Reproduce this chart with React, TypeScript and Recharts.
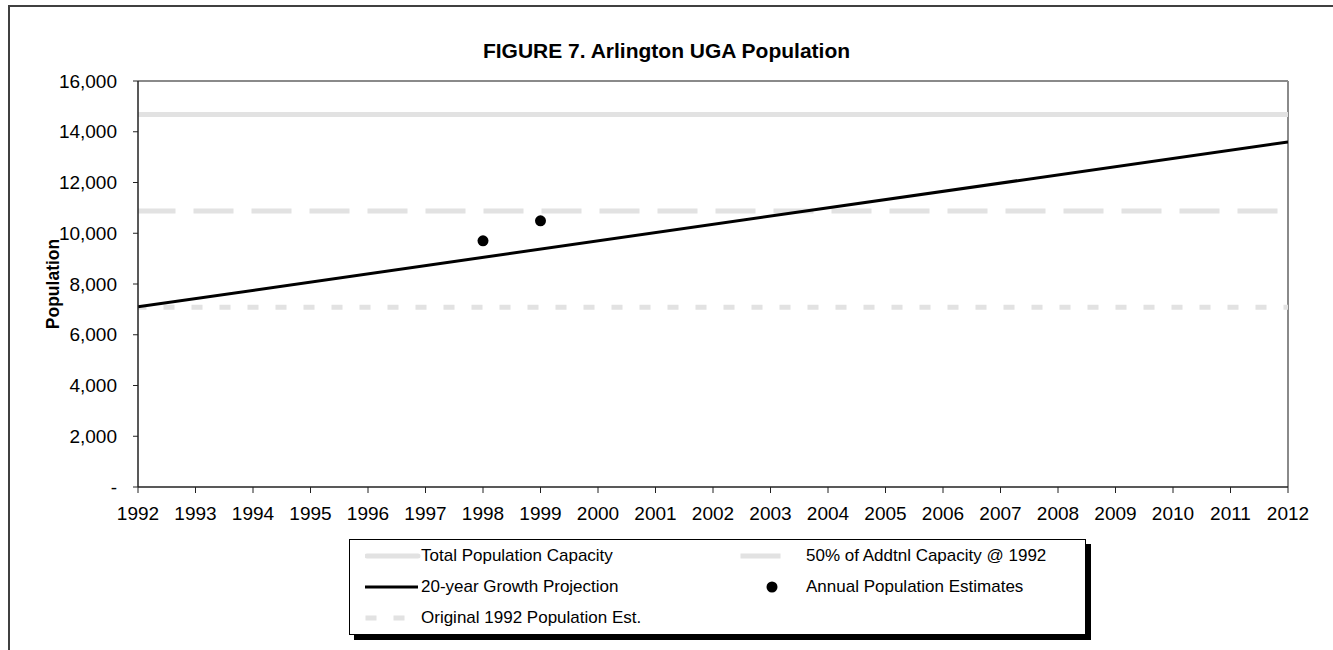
import React from 'react';
import { ComposedChart, Line, Scatter, XAxis, YAxis, ReferenceLine, Legend, Label } from 'recharts';

const years = [1992, 1993, 1994, 1995, 1996, 1997, 1998, 1999, 2000, 2001, 2002, 2003, 2004, 2005, 2006, 2007, 2008, 2009, 2010, 2011, 2012];
const yTicks = [0, 2000, 4000, 6000, 8000, 10000, 12000, 14000, 16000];

const totalCapacity = [
  { year: 1992, value: 14680 },
  { year: 2012, value: 14680 },
];
const halfAdditionalCapacity = [
  { year: 1992, value: 10880 },
  { year: 2012, value: 10880 },
];
const original1992Estimate = [
  { year: 1992, value: 7080 },
  { year: 2012, value: 7080 },
];
const growthProjection = [
  { year: 1992, value: 7100 },
  { year: 2012, value: 13600 },
];
const annualEstimates = [
  { year: 1998, value: 9700 },
  { year: 1999, value: 10490 },
];

const seriesNames = {
  total: 'Total Population Capacity',
  half: '50% of Addtnl Capacity @ 1992',
  growth: '20-year Growth Projection',
  annual: 'Annual Population Estimates',
  original: 'Original 1992 Population Est.',
};

const FONT = '"Liberation Sans", Arial, Helvetica, sans-serif';
const GRAY = '#e2e2e2';

const fmtY = (v: number) => (v === 0 ? '-' : v.toLocaleString('en-US'));

const LegendKey = ({ kind }: { kind: string }) => {
  if (kind === 'total')
    return (
      <svg width={56} height={20}>
        <line x1={2} y1={10} x2={53} y2={10} stroke={GRAY} strokeWidth={5} strokeLinecap="round" />
      </svg>
    );
  if (kind === 'growth')
    return (
      <svg width={56} height={20}>
        <line x1={0} y1={10} x2={53} y2={10} stroke="#000" strokeWidth={3} />
      </svg>
    );
  if (kind === 'original')
    return (
      <svg width={56} height={20}>
        <line x1={3} y1={10} x2={53} y2={10} stroke={GRAY} strokeWidth={5} strokeDasharray="6 22" strokeLinecap="square" />
      </svg>
    );
  if (kind === 'half')
    return (
      <svg width={62} height={20}>
        <line x1={3} y1={10} x2={38} y2={10} stroke={GRAY} strokeWidth={5} strokeLinecap="square" />
      </svg>
    );
  return (
    <svg width={62} height={20}>
      <circle cx={32} cy={10} r={5.5} fill="#000" />
    </svg>
  );
};

const renderLegend = () => {
  const items: { kind: string; col: number; row: number }[] = [
    { kind: 'total', col: 0, row: 0 },
    { kind: 'half', col: 1, row: 0 },
    { kind: 'growth', col: 0, row: 1 },
    { kind: 'annual', col: 1, row: 1 },
    { kind: 'original', col: 0, row: 2 },
  ];
  return (
    <div
      style={{
        position: 'relative',
        width: 737,
        height: 96,
        boxSizing: 'border-box',
        border: '1px solid #000',
        boxShadow: '5px 5px 0 #000',
        background: '#fff',
        fontFamily: FONT,
        fontSize: 17,
        color: '#000',
      }}
    >
      {items.map((it) => (
        <div
          key={it.kind}
          style={{
            position: 'absolute',
            left: it.col === 0 ? 15 : 390,
            top: 6 + it.row * 31,
            height: 20,
            display: 'flex',
            alignItems: 'center',
            whiteSpace: 'nowrap',
          }}
        >
          <LegendKey kind={it.kind} />
          <span style={{ marginLeft: it.col === 0 ? 0 : 4 }}>{(seriesNames as any)[it.kind]}</span>
        </div>
      ))}
    </div>
  );
};

const YLabel = (props: any) => {
  const vb = props.viewBox || { x: 0, y: 0, width: 0, height: 0 };
  const cx = vb.x + 53;
  const cy = vb.y + vb.height / 2;
  return (
    <text
      x={cx}
      y={cy}
      transform={`rotate(-90, ${cx}, ${cy})`}
      textAnchor="middle"
      dominantBaseline="central"
      fontFamily={FONT}
      fontSize={17.5}
      fontWeight="bold"
      fill="#000"
    >
      Population
    </text>
  );
};

export default function App() {
  return (
    <div style={{ position: 'absolute', left: 0, top: 0, width: 1333, height: 650, overflow: 'hidden', background: '#fff' }}>
      <div
        style={{
          position: 'absolute',
          left: 8,
          top: 5,
          width: 1400,
          height: 800,
          border: '2px solid #404040',
          boxSizing: 'border-box',
        }}
      />
      <div
        style={{
          position: 'absolute',
          left: 0,
          top: 39,
          width: 1333,
          textAlign: 'center',
          fontFamily: FONT,
          fontWeight: 'bold',
          fontSize: 21,
          color: '#000',
        }}
      >
        FIGURE 7. Arlington UGA Population
      </div>
      <div style={{ position: 'absolute', left: 0, top: 0 }}>
        <ComposedChart width={1333} height={650} margin={{ top: 81, right: 45, bottom: 123, left: 0 }}>
          <XAxis
            type="number"
            dataKey="year"
            domain={[1992, 2012]}
            ticks={years}
            interval={0}
            height={40}
            tickSize={6}
            tickMargin={14}
            axisLine={{ stroke: '#222', strokeWidth: 1.5 }}
            tickLine={{ stroke: '#222' }}
            tick={{ fill: '#000', fontSize: 19, fontFamily: FONT }}
            allowDataOverflow
          />
          <YAxis
            type="number"
            domain={[0, 16000]}
            ticks={yTicks}
            interval={0}
            width={138}
            tickSize={5}
            tickMargin={16}
            tickFormatter={fmtY}
            axisLine={{ stroke: '#222', strokeWidth: 1.5 }}
            tickLine={{ stroke: '#222' }}
            tick={{ fill: '#000', fontSize: 19, fontFamily: FONT }}
            allowDataOverflow
          >
            <Label content={YLabel} />
          </YAxis>
          <ReferenceLine y={16000} stroke="#8a8a8a" strokeWidth={2} />
          <ReferenceLine x={2012} stroke="#8a8a8a" strokeWidth={2} />
          <Line
            data={totalCapacity}
            dataKey="value"
            name={seriesNames.total}
            stroke={GRAY}
            strokeWidth={5}
            strokeLinecap="round"
            dot={false}
            activeDot={false}
            isAnimationActive={false}
          />
          <Line
            data={halfAdditionalCapacity}
            dataKey="value"
            name={seriesNames.half}
            stroke={GRAY}
            strokeWidth={5}
            strokeDasharray="35 23"
            strokeLinecap="square"
            dot={false}
            activeDot={false}
            isAnimationActive={false}
          />
          <Line
            data={original1992Estimate}
            dataKey="value"
            name={seriesNames.original}
            stroke={GRAY}
            strokeWidth={5}
            strokeDasharray="6 22"
            strokeLinecap="square"
            dot={false}
            activeDot={false}
            isAnimationActive={false}
          />
          <Line
            data={growthProjection}
            dataKey="value"
            name={seriesNames.growth}
            stroke="#000"
            strokeWidth={3}
            dot={false}
            activeDot={false}
            isAnimationActive={false}
          />
          <Scatter
            data={annualEstimates}
            dataKey="value"
            name={seriesNames.annual}
            fill="#000"
            isAnimationActive={false}
            shape={(p: any) => <circle cx={p.cx} cy={p.cy} r={5.5} fill="#000" />}
          />
          <Legend
            layout="vertical"
            align="center"
            verticalAlign="middle"
            content={renderLegend}
            wrapperStyle={{ left: 349, top: 539, width: 737, height: 96 }}
          />
        </ComposedChart>
      </div>
    </div>
  );
}
